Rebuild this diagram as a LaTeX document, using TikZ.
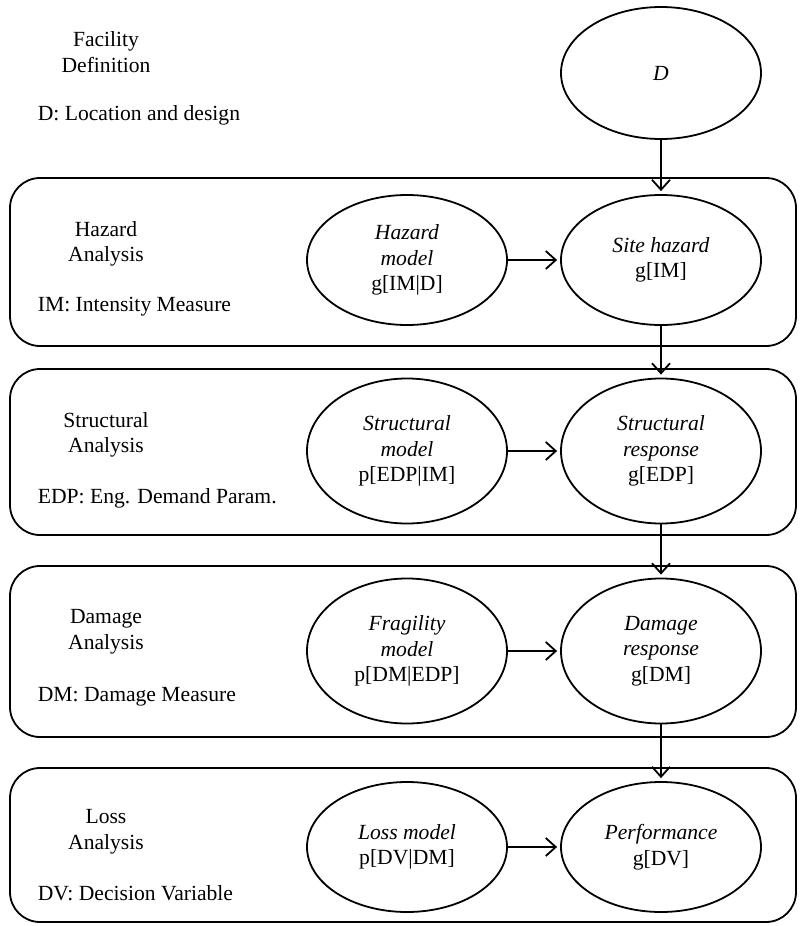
\documentclass[tikz,border=0pt]{standalone}
\usepackage{fontspec}
\setmainfont{Liberation Serif}
\usetikzlibrary{shapes.geometric,arrows.meta}

\begin{document}
\begin{tikzpicture}[x=0.5pt,y=-0.5pt,line width=0.9pt,
    font=\fontsize{10.8}{12.8}\selectfont,
    blob/.style={ellipse,draw,minimum width=100pt,minimum height=65pt,inner sep=0pt,align=center},
    tall/.style={minimum height=72.5pt},
    stage/.style={draw,rounded corners=15pt},
    title/.style={align=center,inner sep=0pt},
    note/.style={anchor=west,inner sep=0pt},
    >={Straight Barb[length=5pt,width=9pt]}]
      \useasboundingbox (0,0) rectangle (800,926);
      \draw [stage] (10,178) rectangle (796,346);
      \draw [stage] (10,369) rectangle (796,535);
      \draw [stage] (10,566) rectangle (796,737);
      \draw [stage] (10,768) rectangle (796,922);
      \node [title] (T0) at (106,52) {Facility\\Definition};
      \node [note] (N0) at (37,115) {D: Location and design};
      \node [title] (T1) at (106,244) {Hazard\\Analysis};
      \node [note] (N1) at (37,307) {IM: Intensity Measure};
      \node [title] (T2) at (106,435) {Structural\\Analysis};
      \node [note] (N2) at (37,498) {EDP: Eng. Demand Param.};
      \node [title] (T3) at (106,632) {Damage\\Analysis};
      \node [note] (N3) at (37,697) {DM: Damage Measure};
      \node [title] (T4) at (106,832) {Loss\\Analysis};
      \node [note] (N4) at (37,893) {DV: Decision Variable};
      \node [blob,minimum height=66pt] (D) at (661,73) {\textit{D}};
      \node [blob] (A1) at (407,260) {\textit{Hazard}\\\textit{model}\\g[IM|D]};
      \node [blob] (B1) at (661,260) {\textit{Site hazard}\\g[IM]};
      \node [blob,tall] (A2) at (407,451) {\textit{Structural}\\\textit{model}\\p[EDP|IM]};
      \node [blob,tall] (B2) at (661,451) {\textit{Structural}\\\textit{response}\\g[EDP]};
      \node [blob,tall] (A3) at (407,651) {\textit{Fragility}\\\textit{model}\\p[DM|EDP]};
      \node [blob,tall] (B3) at (661,651) {\textit{Damage}\\\textit{response}\\g[DM]};
      \node [blob] (A4) at (407,847) {\textit{Loss model}\\p[DV|DM]};
      \node [blob] (B4) at (661,847) {\textit{Performance}\\g[DV]};
      \draw [->,shorten >=1.5pt] (D) -- (B1);
      \draw [->,shorten >=1.5pt] (B1) -- (B2);
      \draw [->,shorten >=1.5pt] (B2) -- (B3);
      \draw [->,shorten >=1.5pt] (B3) -- (B4);
      \draw [->,shorten >=1.5pt] (A1) -- (B1);
      \draw [->,shorten >=1.5pt] (A2) -- (B2);
      \draw [->,shorten >=1.5pt] (A3) -- (B3);
      \draw [->,shorten >=1.5pt] (A4) -- (B4);
\end{tikzpicture}
\end{document}
